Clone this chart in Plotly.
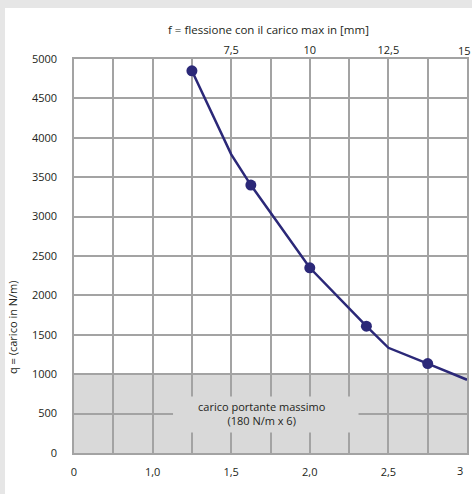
import plotly.graph_objects as go

# ---- data ----
span_m = [1.25, 1.5, 1.625, 2.0, 2.36, 2.5, 2.75, 3.0]
load_nm = [4850, 3790, 3400, 2350, 1610, 1335, 1135, 930]
measured = [True, False, True, True, True, False, True, False]

x_tickvals = [0.5, 0.75, 1.0, 1.25, 1.5, 1.75, 2.0, 2.25, 2.5, 2.75, 3.0]
x_ticktext = ["0", "", "1,0", "", "1,5", "", "2,0", "", "2,5", "", "3"]
top_tickvals = [7.5, 10, 12.5, 15]
top_ticktext = ["7,5", "10", "12,5", "15"]
y_tickvals = list(range(0, 5001, 500))

limit_load = 1000
title_top = "f = flessione con il carico max in [mm]"
title_left = "q = (carico in N/m)"
box_text = "carico portante massimo<br>(180 N/m x 6)"

# ---- styles ----
FONT = "Open Sans"
TXT = "#231f20"
GRID = "#a3a3a3"
BAND = "#d9d9d9"
LINE = "#2b2878"
FRAME = "#e6e6e6"

W, H = 472, 494
ML, MR, MT, MB = 74, 5, 59, 41
PW, PH = W - ML - MR, H - MT - MB


def px_x(p):
    return (p - ML) / PW


def px_y(p):
    return (H - MB - p) / PH


# last labels are drawn as annotations, nudged inside the frame like the reference
x_ticktext_disp = x_ticktext[:-1] + [""]
top_ticktext_disp = top_ticktext[:-1] + [""]

fig = go.Figure()
fig.add_trace(go.Scatter(
    x=span_m, y=load_nm, mode="lines+markers",
    line=dict(color=LINE, width=2.5),
    marker=dict(color=LINE, size=[11 if m else 0 for m in measured],
                opacity=1, line=dict(width=0)),
    cliponaxis=True, showlegend=False, hoverinfo="skip"))
# invisible trace for top axis
fig.add_trace(go.Scatter(x=[2.5, 15], y=[None, None], xaxis="x2", showlegend=False,
                         mode="markers", hoverinfo="skip"))

fig.update_layout(
    width=W, height=H,
    margin=dict(l=ML, r=MR, t=MT, b=MB, autoexpand=False),
    paper_bgcolor="white", plot_bgcolor="white",
    font=dict(family=FONT, size=11, color=TXT),
    xaxis=dict(range=[0.5, 3.0], tickvals=x_tickvals, ticktext=x_ticktext_disp,
               showgrid=True, gridcolor=GRID, gridwidth=1.5, zeroline=False,
               showline=True, linecolor=GRID, linewidth=1.5, mirror=True,
               ticks="", ticklabelstandoff=8, automargin=False),
    xaxis2=dict(range=[2.5, 15], tickvals=top_tickvals, ticktext=top_ticktext_disp,
                overlaying="x", side="top", showgrid=False, zeroline=False,
                showline=False, ticks="", ticklabelstandoff=2, automargin=False),
    yaxis=dict(range=[0, 5000], tickvals=y_tickvals,
               showgrid=True, gridcolor=GRID, gridwidth=1.5, zeroline=False,
               showline=True, linecolor=GRID, linewidth=1.5, mirror=True,
               ticks="", ticklabelstandoff=13, automargin=False),
    shapes=[
        dict(type="rect", xref="paper", yref="paper", x0=px_x(0), x1=px_x(W),
             y0=px_y(8), y1=px_y(0), fillcolor=FRAME, line=dict(width=0), layer="below"),
        dict(type="rect", xref="paper", yref="paper", x0=px_x(0), x1=px_x(5),
             y0=px_y(H), y1=px_y(0), fillcolor=FRAME, line=dict(width=0), layer="below"),
        dict(type="rect", xref="x", yref="y", x0=0.5, x1=3.0, y0=0, y1=limit_load,
             fillcolor=BAND, line=dict(width=0), layer="below"),
        dict(type="rect", xref="x", yref="y", x0=1.13, x1=2.31, y0=259, y1=716,
             fillcolor=BAND, line=dict(width=0), layer="between"),
    ],
    annotations=[
        dict(text=box_text, x=1.695, y=500, xref="x", yref="y", showarrow=False,
             xanchor="center", yanchor="middle",
             font=dict(size=11, color=TXT, family=FONT)),
        dict(text=title_top, x=px_x(268), y=px_y(30), xref="paper", yref="paper",
             xanchor="center", yanchor="middle",
             showarrow=False, font=dict(size=11.5, color=TXT, family=FONT)),
        dict(text=title_left, x=px_x(12), y=px_y(327), xref="paper", yref="paper",
             xanchor="center", yanchor="middle",
             showarrow=False, textangle=-90, font=dict(size=11, color=TXT, family=FONT)),
        dict(text=x_ticktext[-1], x=x_tickvals[-1], xref="x", y=px_y(470), yref="paper",
             xanchor="center", yanchor="middle", xshift=-7, showarrow=False,
             font=dict(size=11, color=TXT, family=FONT)),
        dict(text=top_ticktext[-1], x=top_tickvals[-1], xref="x2", y=px_y(51), yref="paper",
             xanchor="center", yanchor="middle", xshift=-3, showarrow=False,
             font=dict(size=11, color=TXT, family=FONT)),
    ],
)

fig.write_html(
    "out.html", config={"displayModeBar": False},
    post_script=("document.documentElement.style.margin='0';"
                 "document.documentElement.style.overflow='hidden';"
                 "document.body.style.margin='0';document.body.style.overflow='hidden';"))
